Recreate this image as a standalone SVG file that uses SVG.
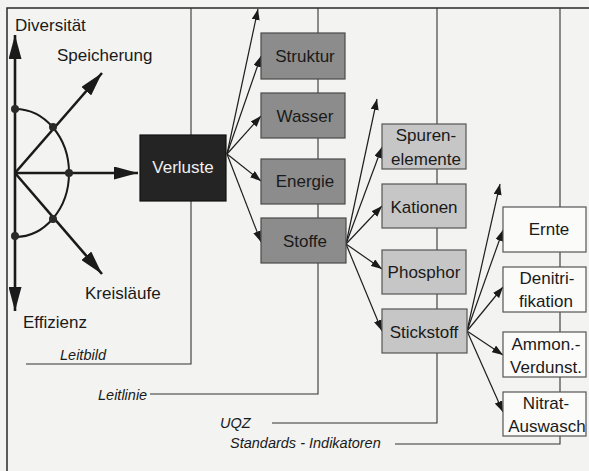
<svg xmlns="http://www.w3.org/2000/svg" width="589" height="471" viewBox="0 0 589 471">
<style>
.bg{fill:#f3f3f1}
.frame{fill:none;stroke:#2a2a2a;stroke-width:1.5}
.lvl{fill:none;stroke:#333;stroke-width:1.1}
.ax{fill:none;stroke:#1a1a1a;stroke-width:2.6}
.arc{fill:none;stroke:#1a1a1a;stroke-width:2}
.dot{fill:#2a2a2a}
.con{fill:none;stroke:#1e1e1e;stroke-width:1.2}
.b0{fill:#242424;stroke:#111;stroke-width:1.2}
.b1{fill:#8c8c8c;stroke:#4a4a4a;stroke-width:1.2}
.b2{fill:#c6c6c6;stroke:#555;stroke-width:1.2}
.b3{fill:#fbfbfa;stroke:#555;stroke-width:1.2}
text{font-family:"Liberation Sans",Arial,sans-serif;fill:#1a1a1a}
.t{font-size:17px;text-anchor:middle}
.lab{font-size:17px}
.w{fill:#f0f0f0}
.it{font-size:14.5px;font-style:italic}
</style>
<defs>
<marker id="a" viewBox="0 0 11 8" refX="11" refY="4" markerWidth="11" markerHeight="8" markerUnits="userSpaceOnUse" orient="auto"><path d="M0,0 L11,4 L0,8 z" fill="#1a1a1a"/></marker>
<marker id="A" viewBox="0 0 24 13" refX="24" refY="6.5" markerWidth="24" markerHeight="13" markerUnits="userSpaceOnUse" orient="auto"><path d="M0,0 L24,6.5 L0,13 z" fill="#1a1a1a"/></marker>
</defs>
<rect class="bg" x="0" y="0" width="589" height="471"/>
<path class="frame" d="M7,471 V8 H589"/>

<g id="levels">
<polyline class="lvl" points="26,364 191,364 191,8"/>
<polyline class="lvl" points="150,394 318,394 318,8"/>
<polyline class="lvl" points="272,423 437,423 437,8"/>
<polyline class="lvl" points="395,444 560,444 560,8"/>
</g>

<g id="leitbild">
<path class="arc" d="M15,109 A54,64 0 0 1 15,237"/>
<line class="ax" x1="15" y1="173" x2="15" y2="35" marker-end="url(#A)"/>
<line class="ax" x1="15" y1="173" x2="15" y2="311" marker-end="url(#A)"/>
<line class="ax" x1="15" y1="173" x2="138" y2="173" marker-end="url(#A)"/>
<line class="ax" x1="15" y1="173" x2="102" y2="73" marker-end="url(#A)"/>
<line class="ax" x1="15" y1="173" x2="102" y2="274" marker-end="url(#A)"/>
<circle class="dot" cx="15" cy="109" r="4"/>
<circle class="dot" cx="53" cy="127" r="4"/>
<circle class="dot" cx="69" cy="173" r="4"/>
<circle class="dot" cx="53" cy="219" r="4"/>
<circle class="dot" cx="15" cy="236" r="4"/>
<text class="lab" x="15" y="31">Diversität</text>
<text class="lab" x="57" y="61">Speicherung</text>
<text class="lab" x="85" y="299">Kreisläufe</text>
<text class="lab" x="23" y="328">Effizienz</text>
</g>

<g id="connectors">
<line class="con" x1="227" y1="154" x2="258" y2="9" marker-end="url(#a)"/>
<line class="con" x1="227" y1="154" x2="261" y2="56" marker-end="url(#a)"/>
<line class="con" x1="227" y1="154" x2="261" y2="116" marker-end="url(#a)"/>
<line class="con" x1="227" y1="154" x2="261" y2="181" marker-end="url(#a)"/>
<line class="con" x1="227" y1="154" x2="261" y2="242" marker-end="url(#a)"/>
<line class="con" x1="346" y1="244" x2="377" y2="99" marker-end="url(#a)"/>
<line class="con" x1="346" y1="244" x2="382" y2="147" marker-end="url(#a)"/>
<line class="con" x1="346" y1="244" x2="382" y2="206" marker-end="url(#a)"/>
<line class="con" x1="346" y1="244" x2="382" y2="269" marker-end="url(#a)"/>
<line class="con" x1="346" y1="244" x2="382" y2="331" marker-end="url(#a)"/>
<line class="con" x1="467" y1="331" x2="500" y2="184" marker-end="url(#a)"/>
<line class="con" x1="467" y1="331" x2="503" y2="230" marker-end="url(#a)"/>
<line class="con" x1="467" y1="331" x2="503" y2="287" marker-end="url(#a)"/>
<line class="con" x1="467" y1="331" x2="503" y2="355" marker-end="url(#a)"/>
<line class="con" x1="467" y1="331" x2="503" y2="412" marker-end="url(#a)"/>
</g>

<g id="verluste"><rect class="b0" x="140" y="135" width="86" height="66"/><text class="t w" x="183" y="173">Verluste</text></g>
<g id="struktur"><rect class="b1" x="261" y="33" width="84" height="46"/><text class="t" x="305" y="62">Struktur</text></g>
<g id="wasser"><rect class="b1" x="261" y="93" width="84" height="45"/><text class="t" x="305" y="122">Wasser</text></g>
<g id="energie"><rect class="b1" x="261" y="159" width="84" height="45"/><text class="t" x="305" y="187">Energie</text></g>
<g id="stoffe"><rect class="b1" x="261" y="218" width="85" height="45"/><text class="t" x="305" y="247">Stoffe</text></g>

<g id="spurenelemente"><rect class="b2" x="382" y="124" width="84" height="45"/><text class="t" x="426" y="141">Spuren-</text><text class="t" x="426" y="165">elemente</text></g>
<g id="kationen"><rect class="b2" x="382" y="184" width="84" height="44"/><text class="t" x="424" y="213">Kationen</text></g>
<g id="phosphor"><rect class="b2" x="382" y="250" width="84" height="44"/><text class="t" x="424" y="278">Phosphor</text></g>
<g id="stickstoff"><rect class="b2" x="382" y="309" width="85" height="44"/><text class="t" x="424" y="338">Stickstoff</text></g>

<g id="ernte"><rect class="b3" x="503" y="207" width="83" height="45"/><text class="t" x="549" y="235">Ernte</text></g>
<g id="denitrifikation"><rect class="b3" x="503" y="267" width="83" height="45"/><text class="t" x="547" y="284">Denitri-</text><text class="t" x="546" y="307">fikation</text></g>
<g id="ammon"><rect class="b3" x="503" y="332" width="83" height="45"/><text class="t" x="546" y="350">Ammon.-</text><text class="t" x="546" y="373">Verdunst.</text></g>
<g id="nitrat"><rect class="b3" x="503" y="392" width="83" height="44"/><text class="t" x="546" y="409">Nitrat-</text><text class="t" x="547" y="432">Auswasch</text></g>

<g id="labels">
<text class="it" x="60" y="360">Leitbild</text>
<text class="it" x="98" y="400">Leitlinie</text>
<text class="it" x="220" y="428">UQZ</text>
<text class="it" x="230" y="448">Standards - Indikatoren</text>
</g>
</svg>
